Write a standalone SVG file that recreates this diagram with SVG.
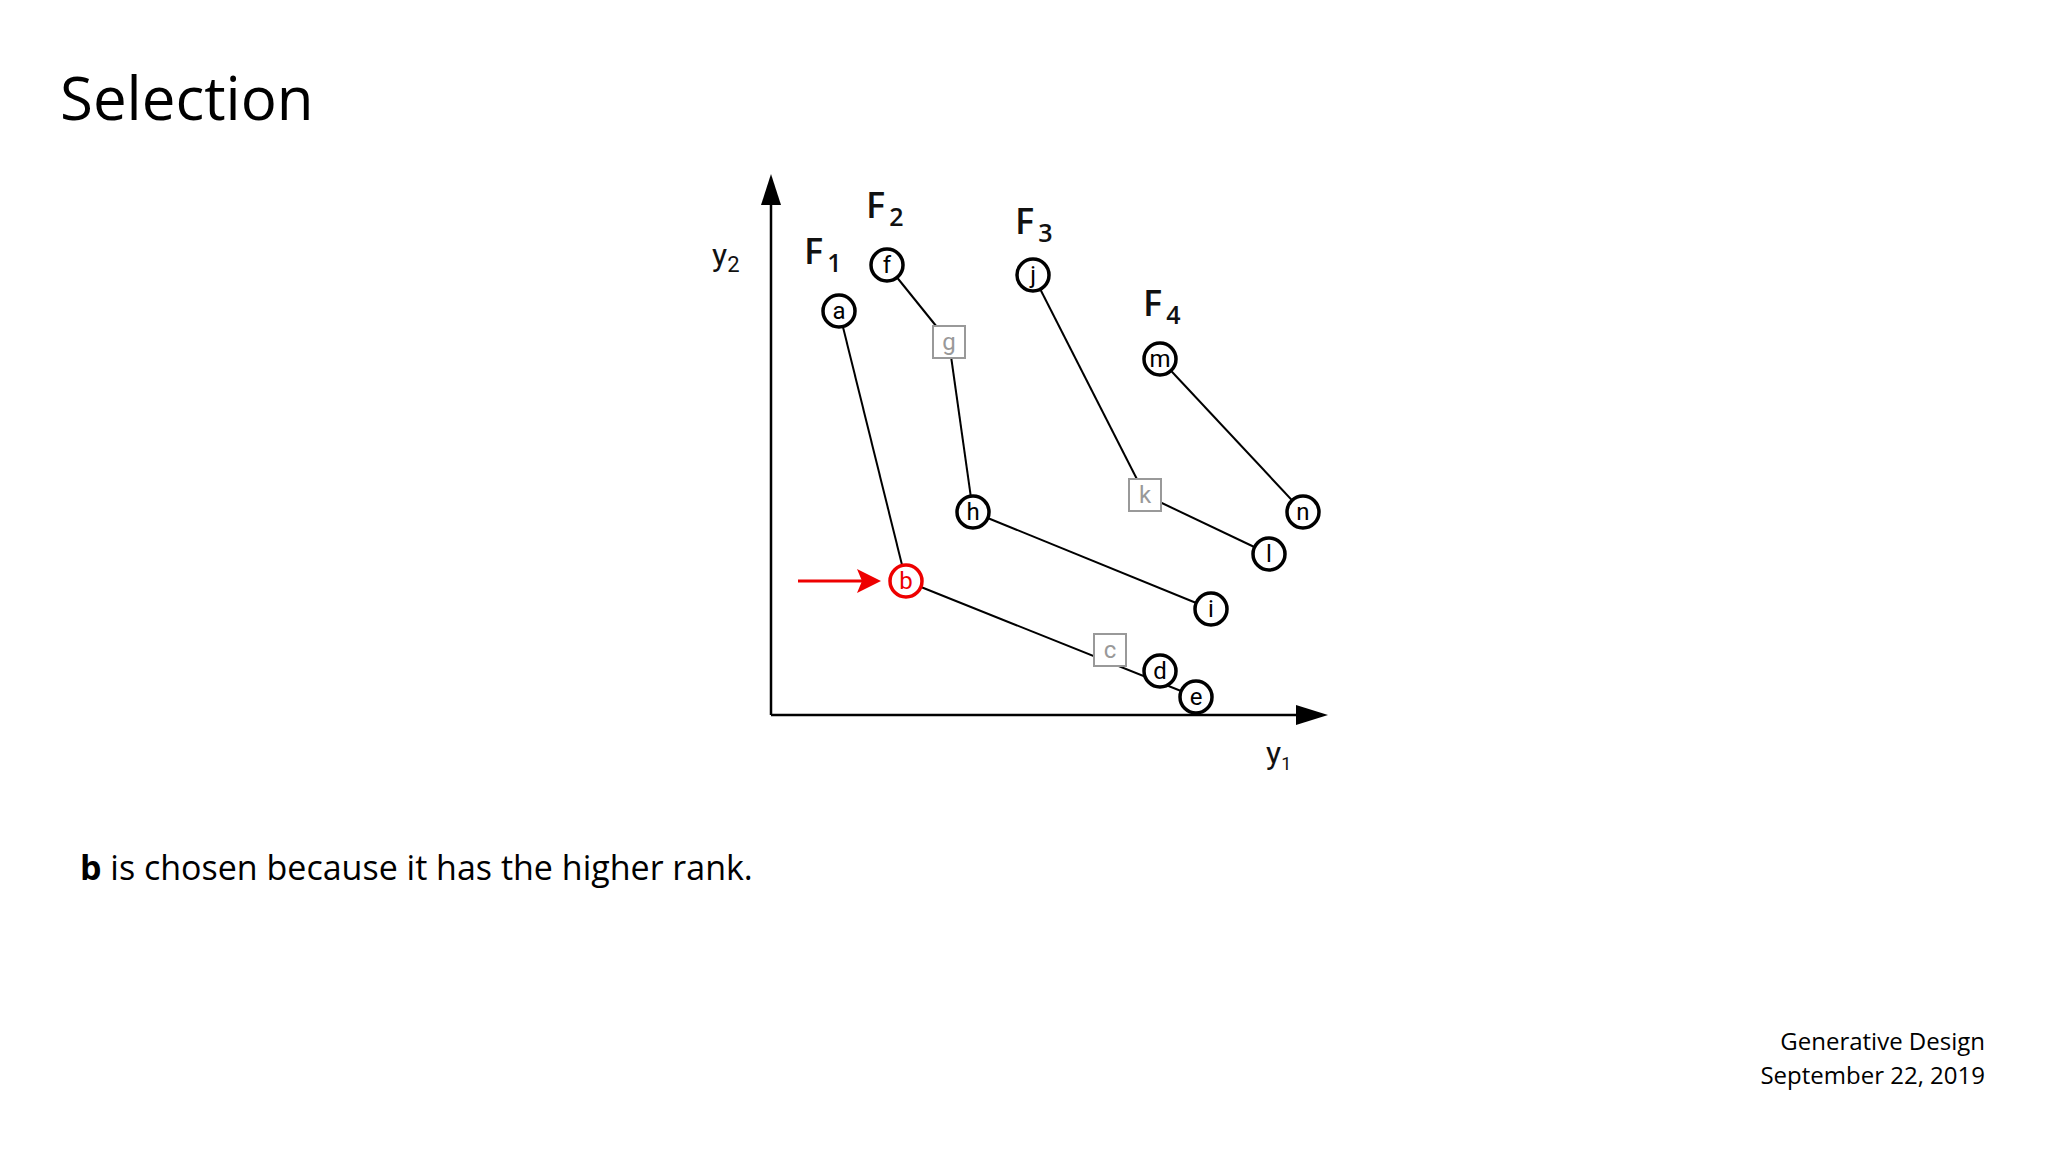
<svg xmlns="http://www.w3.org/2000/svg" width="2048" height="1152" viewBox="0 0 2048 1152">
<style>
.n circle{fill:#fff;stroke:#000;stroke-width:3.5}
.n text,.s text{font-family:Roboto,sans-serif;font-size:24px;text-anchor:middle}
.s rect{fill:#fff;stroke:#999;stroke-width:2}
.s text{fill:#999}
.F{font-family:"Open Sans",sans-serif;font-weight:600;font-size:36px;fill:#111}
.F tspan{font-size:25px}
.ax{font-family:Roboto,sans-serif;font-size:32px;fill:#111}
.e line{stroke:#000;stroke-width:2}
</style>
<rect width="2048" height="1152" fill="#fff"/>
<text x="60" y="120" font-family="'Open Sans',sans-serif" font-size="60" fill="#000">Selection</text>
<text x="80" y="880" font-family="'Open Sans',sans-serif" font-size="34" fill="#000"><tspan font-weight="bold">b</tspan> is chosen because it has the higher rank.</text>
<text x="1985" y="1050" font-family="'Open Sans',sans-serif" font-size="24" text-anchor="end">Generative Design</text>
<text x="1985" y="1084" font-family="'Open Sans',sans-serif" font-size="24" text-anchor="end">September 22, 2019</text>
<g id="axes">
<path d="M771,715 V200" stroke="#000" stroke-width="2.5"/>
<path d="M761,205 L771,174 L781,205z"/>
<path d="M771,715 H1300" stroke="#000" stroke-width="2.5"/>
<path d="M1296,705 L1328,715 L1296,725z"/>
<text class="ax" x="712" y="266">y<tspan font-size="22" dy="6">2</tspan></text>
<text class="ax" x="1266" y="764">y<tspan font-size="18" dy="6">1</tspan></text>
</g>
<text class="F" x="804" y="264">F<tspan dx="4" dy="8">1</tspan></text>
<text class="F" x="866" y="218">F<tspan dx="4" dy="8">2</tspan></text>
<text class="F" x="1015" y="234">F<tspan dx="4" dy="8">3</tspan></text>
<text class="F" x="1143" y="316">F<tspan dx="4" dy="8">4</tspan></text>
<g id="connectors" class="e">
<line x1="839" y1="311" x2="906" y2="581"/>
<line x1="906" y1="581" x2="1196" y2="697"/>
<line x1="887" y1="265" x2="949" y2="342"/>
<line x1="949" y1="342" x2="973" y2="512"/>
<line x1="973" y1="512" x2="1211" y2="609"/>
<line x1="1033" y1="275" x2="1145" y2="495"/>
<line x1="1145" y1="495" x2="1269" y2="554"/>
<line x1="1160" y1="359" x2="1303" y2="512"/>
<line x1="798" y1="581" x2="866" y2="581" style="stroke:#e00;stroke-width:3"/>
</g>
<path d="M857,569 L881,581 L857,593 L862,581z" fill="#e00"/>
<g id="a" class="n"><circle cx="839" cy="311" r="16"/><text x="839" y="319">a</text></g>
<g id="b" class="n"><circle cx="906" cy="581" r="16" style="stroke:#e00"/><text x="906" y="589" fill="#e00">b</text></g>
<g id="c" class="s"><rect x="1094" y="634" width="32" height="32"/><text x="1110" y="658">c</text></g>
<g id="d" class="n"><circle cx="1160" cy="671" r="16"/><text x="1160" y="679">d</text></g>
<g id="e" class="n"><circle cx="1196" cy="697" r="16"/><text x="1196" y="705">e</text></g>
<g id="f" class="n"><circle cx="887" cy="265" r="16"/><text x="887" y="273">f</text></g>
<g id="g" class="s"><rect x="933" y="326" width="32" height="32"/><text x="949" y="350">g</text></g>
<g id="h" class="n"><circle cx="973" cy="512" r="16"/><text x="973" y="520">h</text></g>
<g id="i" class="n"><circle cx="1211" cy="609" r="16"/><text x="1211" y="617">i</text></g>
<g id="j" class="n"><circle cx="1033" cy="275" r="16"/><text x="1033" y="283">j</text></g>
<g id="k" class="s"><rect x="1129" y="479" width="32" height="32"/><text x="1145" y="503">k</text></g>
<g id="l" class="n"><circle cx="1269" cy="554" r="16"/><text x="1269" y="562">l</text></g>
<g id="m" class="n"><circle cx="1160" cy="359" r="16"/><text x="1160" y="367">m</text></g>
<g id="n" class="n"><circle cx="1303" cy="512" r="16"/><text x="1303" y="520">n</text></g>
</svg>
